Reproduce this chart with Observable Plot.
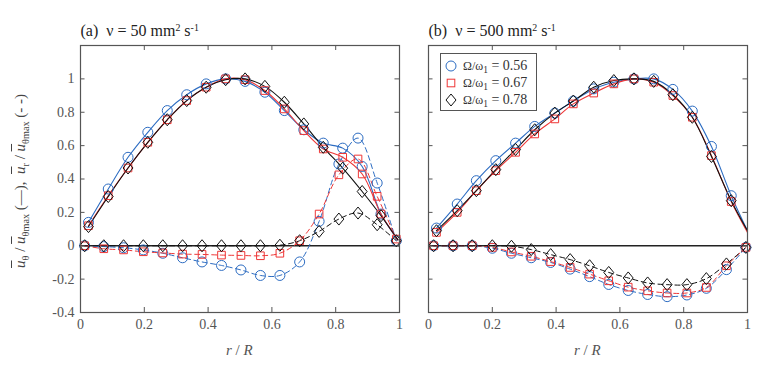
<!DOCTYPE html>
<html>
<head>
<meta charset="utf-8">
<script src="https://cdn.jsdelivr.net/npm/d3@7"></script>
<script src="https://cdn.jsdelivr.net/npm/@observablehq/plot@0.6"></script>
<style>
  body { margin: 0; background: #fff; }
  #wrap { position: relative; width: 762px; height: 365px; font-family: "Liberation Serif", "DejaVu Serif", serif; overflow: hidden; }
  #wrap svg.plotmain { position: absolute; left: 0; top: 0; }
  .ttl { position: absolute; font-size: 16px; line-height: 16px; color: #222; white-space: nowrap; }
  .ttl sup { font-size: 62%; vertical-align: 0.55em; line-height: 0; }
  .xl { position: absolute; font-size: 15px; line-height: 15px; color: #555; white-space: nowrap; transform: translateX(-50%); }
  #ylab { position: absolute; left: 20px; top: 181px; font-size: 15px; line-height: 20px; color: #444; white-space: nowrap;
          transform: translate(-50%, -50%) rotate(-90deg); }
  #ylab .ov { text-decoration: overline; }
  #ylab sub { font-size: 68%; vertical-align: -0.35em; line-height: 0; }
  #legend { position: absolute; left: 440px; top: 53px; width: 95px; height: 56px; border: 1px solid #555; background: #fff; }
  .lrow { position: absolute; left: 0; height: 16px; line-height: 16px; font-size: 14px; color: #333; white-space: nowrap; }
  .lrow svg { position: absolute; left: 4px; top: 2px; }
  .lrow span.t { position: absolute; left: 22px; top: 0; }
  .lrow .g { font-size: 12px; }
  .lrow sub { font-size: 68%; vertical-align: -0.35em; line-height: 0; }
</style>
</head>
<body>
<div id="wrap"></div>
<script>
// ---- categories / ticks ----
const panels = ["a", "b"];
const panelTitles = ["(a)&nbsp;&nbsp;ν = 50 mm<sup>2</sup> s<sup>-1</sup>", "(b)&nbsp;&nbsp;ν = 500 mm<sup>2</sup> s<sup>-1</sup>"];
const seriesNames = ["0.56", "0.67", "0.78"];
const seriesColors = ["#2c6cc2", "#ee3636", "#111111"];
const xTicks = [0, 0.2, 0.4, 0.6, 0.8, 1];
const yTicks = [-0.4, -0.2, 0, 0.2, 0.4, 0.6, 0.8, 1];

// ---- radial positions ----
const rSolidA = [0.025, 0.087, 0.149, 0.211, 0.272, 0.333, 0.394, 0.455, 0.516, 0.578, 0.639, 0.7, 0.761, 0.822, 0.883, 0.942];
const rDashA  = [0.013, 0.073, 0.135, 0.197, 0.258, 0.32, 0.381, 0.442, 0.503, 0.564, 0.625, 0.687, 0.748, 0.81, 0.87, 0.93, 0.99];
const rSolidB = [0.025, 0.09, 0.15, 0.211, 0.273, 0.333, 0.396, 0.454, 0.518, 0.581, 0.644, 0.706, 0.766, 0.827, 0.887, 0.949];
const rDashB  = [0.016, 0.077, 0.137, 0.2, 0.26, 0.322, 0.383, 0.444, 0.505, 0.565, 0.626, 0.687, 0.748, 0.81, 0.871, 0.934, 0.995];
const rEndA = 0.995;
const rEndB = 1.0;

// ---- panel (a): u_theta / u_theta,max (solid) ----
const uthA056 = [0.14, 0.34, 0.53, 0.68, 0.81, 0.905, 0.97, 1.0, 0.985, 0.92, 0.81, 0.695, 0.615, 0.585, 0.475, 0.19];
const uthA067 = [0.12, 0.30, 0.466, 0.62, 0.755, 0.87, 0.95, 1.0, 0.995, 0.93, 0.82, 0.69, 0.58, 0.53, 0.43, 0.19];
const uthA078 = [0.115, 0.295, 0.466, 0.62, 0.755, 0.87, 0.95, 0.995, 1.0, 0.955, 0.86, 0.73, 0.59, 0.465, 0.325, 0.18];
const uthEndA = [0.035, 0.035, 0.035];
// ---- panel (a): u_r / u_theta,max (dashed) ----
const urA056 = [0, -0.005, -0.012, -0.025, -0.045, -0.072, -0.097, -0.118, -0.145, -0.178, -0.178, -0.097, 0.146, 0.49, 0.645, 0.376, 0.03];
const urA067 = [0, -0.018, -0.025, -0.036, -0.043, -0.05, -0.052, -0.056, -0.058, -0.06, -0.045, 0.03, 0.19, 0.425, 0.52, 0.296, 0.04];
const urA078 = [0, 0, 0, 0, 0, 0, 0, 0, 0, 0, 0.003, 0.03, 0.086, 0.16, 0.196, 0.126, 0.03];

// ---- panel (b): u_theta / u_theta,max (solid) ----
const uthB056 = [0.106, 0.25, 0.39, 0.51, 0.615, 0.715, 0.795, 0.867, 0.94, 0.98, 1.0, 1.0, 0.937, 0.807, 0.595, 0.30];
const uthB067 = [0.08, 0.2, 0.33, 0.45, 0.56, 0.67, 0.76, 0.85, 0.915, 0.97, 1.0, 0.98, 0.9, 0.77, 0.54, 0.265];
const uthB078 = [0.09, 0.21, 0.33, 0.456, 0.577, 0.695, 0.795, 0.867, 0.95, 0.99, 1.0, 0.985, 0.905, 0.77, 0.535, 0.27];
const uthEndB = [0.09, 0.08, 0.09];
// ---- panel (b): u_r / u_theta,max (dashed) ----
const urB056 = [0, 0, 0, -0.015, -0.045, -0.072, -0.1, -0.14, -0.185, -0.232, -0.268, -0.292, -0.305, -0.295, -0.255, -0.143, -0.01];
const urB067 = [0, 0, 0, -0.01, -0.037, -0.063, -0.095, -0.13, -0.17, -0.21, -0.248, -0.27, -0.283, -0.283, -0.25, -0.12, -0.01];
const urB078 = [0, 0, 0, 0, -0.003, -0.023, -0.053, -0.083, -0.12, -0.16, -0.193, -0.223, -0.233, -0.233, -0.197, -0.109, -0.01];

// ---- build tables ----
const uthA = [uthA056, uthA067, uthA078];
const urA = [urA056, urA067, urA078];
const uthB = [uthB056, uthB067, uthB078];
const urB = [urB056, urB067, urB078];

const solidLines = [], dashLines = [], dots = [];
function addPanel(panel, rS, rD, uth, ur, rEnd, ends) {
  seriesNames.forEach((s, i) => {
    const m = rS.map((r, k) => ({panel, series: s, r, v: uth[i][k]}));
    dots.push(...m);
    solidLines.push(...m, {panel, series: s, r: rEnd, v: ends[i]});
    const d = rD.map((r, k) => ({panel, series: s, r, v: ur[i][k]}));
    dots.push(...d);
    dashLines.push(...d);
  });
}
addPanel("a", rSolidA, rDashA, uthA, urA, rEndA, uthEndA);
addPanel("b", rSolidB, rDashB, uthB, urB, rEndB, uthEndB);

// ---- custom marker shapes ----
const symCircle = d3.symbolCircle;
const symSquare = {draw(ctx, size) { const h = Math.sqrt(size) * 0.43; ctx.rect(-h, -h, 2 * h, 2 * h); }};
const symDiamond = {draw(ctx, size) { const s = Math.sqrt(size); const h = s * 0.68, w = s * 0.56;
  ctx.moveTo(0, -h); ctx.lineTo(w, 0); ctx.lineTo(0, h); ctx.lineTo(-w, 0); ctx.closePath(); }};
const symbols = [symCircle, symSquare, symDiamond];

const W = 762, H = 365, mL = 79.5, mR = 15, mT = 45, mB = 53;
const padInner = 0.082;
const step = (W - mL - mR) / (2 - padInner);
const bw = step * (1 - padInner);
const fh = H - mT - mB;
const tk = 5;

const chart = Plot.plot({
  width: W, height: H,
  marginLeft: mL, marginRight: mR, marginTop: mT, marginBottom: mB,
  style: {fontFamily: "'Liberation Serif', 'DejaVu Serif', serif", fontSize: "14px", color: "#555", background: "transparent"},
  fx: {domain: panels, axis: null, paddingInner: padInner, paddingOuter: 0, label: null},
  x: {domain: [0, 1], axis: null},
  y: {domain: [-0.4, 1.2], axis: null},
  color: {domain: seriesNames, range: seriesColors},
  marks: [
    Plot.ruleY([0], {stroke: "#222", strokeWidth: 1.3}),
    Plot.line(dashLines, {x: "r", y: "v", fx: "panel", z: "series", stroke: "series", strokeWidth: 1, strokeDasharray: "5,3.5", curve: "catmull-rom"}),
    Plot.line(solidLines, {x: "r", y: "v", fx: "panel", z: "series", stroke: "series", strokeWidth: 1.1, curve: "catmull-rom"}),
    ...seriesNames.map((s, i) => Plot.dot(dots.filter(d => d.series === s), {x: "r", y: "v", fx: "panel", stroke: seriesColors[i], symbol: symbols[i], r: 5, strokeWidth: 1})),
    Plot.frame({stroke: "#555", strokeWidth: 1.2}),
    Plot.tickX(xTicks, {x: d => d, stroke: "#555", insetBottom: fh - tk}),
    Plot.tickX(xTicks, {x: d => d, stroke: "#555", insetTop: fh - tk}),
    Plot.tickY(yTicks, {y: d => d, stroke: "#555", insetRight: bw - tk}),
    Plot.tickY(yTicks, {y: d => d, stroke: "#555", insetLeft: bw - tk}),
    Plot.axisX(xTicks, {tickSize: 0, tickPadding: 7, tickFormat: d => String(d), label: null, fill: "#555"}),
    Plot.axisY(yTicks, {tickSize: 0, tickPadding: 6, tickFormat: d => String(d), label: null, fill: "#555"})
  ]
});
chart.classList.add("plotmain");
const wrap = document.getElementById("wrap");
wrap.appendChild(chart);

// ---- titles, axis labels ----
const panelLeft = [mL, mL + step];
panels.forEach((p, i) => {
  const t = document.createElement("div");
  t.className = "ttl";
  t.style.left = (panelLeft[i] + 1) + "px";
  t.style.top = "23px";
  t.innerHTML = panelTitles[i];
  wrap.appendChild(t);
  const xl = document.createElement("div");
  xl.className = "xl";
  xl.style.left = (panelLeft[i] + bw / 2) + "px";
  xl.style.top = "343px";
  xl.innerHTML = "<i>r</i> / <i>R</i>";
  wrap.appendChild(xl);
});

const yl = document.createElement("div");
yl.id = "ylab";
yl.innerHTML = '<i class="ov">u</i><sub>θ</sub> / <i class="ov">u</i><sub>θmax</sub> (—),&nbsp;&nbsp;<i class="ov">u</i><sub>r</sub> / <i class="ov">u</i><sub>θmax</sub> (- -)';
wrap.appendChild(yl);

// ---- legend ----
const lg = document.createElement("div");
lg.id = "legend";
const rowTops = [4, 21, 38];
const legendPaths = [
  '<circle cx="6" cy="6" r="5" fill="none" stroke-width="1"/>',
  '<rect x="2.2" y="2.2" width="7.6" height="7.6" fill="none" stroke-width="1"/>',
  '<path d="M6,0 L11,6 L6,12 L1,6 Z" fill="none" stroke-width="1"/>'
];
seriesNames.forEach((s, i) => {
  const row = document.createElement("div");
  row.className = "lrow";
  row.style.top = rowTops[i] + "px";
  row.innerHTML = `<svg width="12" height="12" viewBox="0 0 12 12" stroke="${seriesColors[i]}">${legendPaths[i]}</svg>` +
    `<span class="t"><span class="g">Ω/ω</span><sub>1</sub> = ${s}</span>`;
  lg.appendChild(row);
});
wrap.appendChild(lg);
</script>
</body>
</html>
